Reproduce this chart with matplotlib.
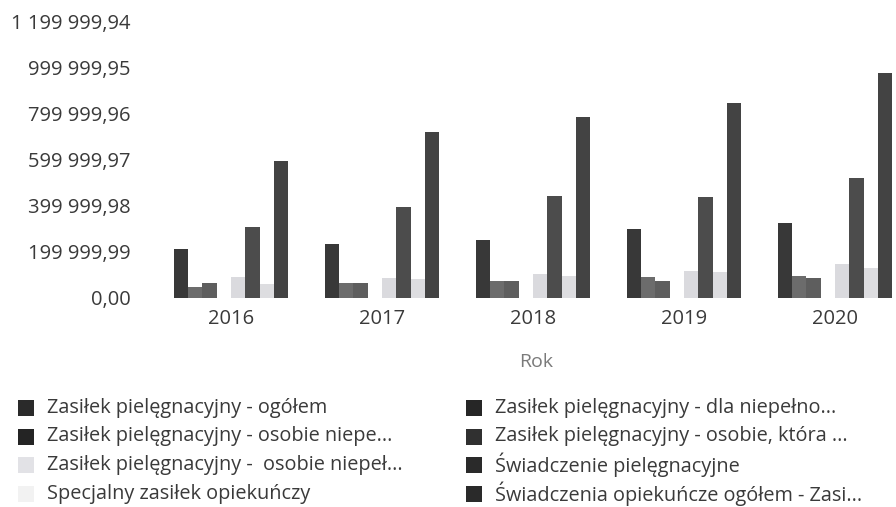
import matplotlib.pyplot as plt
import numpy as np
from matplotlib.patches import Rectangle
from matplotlib.ticker import FuncFormatter

plt.rcParams["font.family"] = ["Open Sans", "DejaVu Sans"]

years = ["2016", "2017", "2018", "2019", "2020"]

# świadczenia per rok (zł)
zp_ogolem = [212000, 234000, 251000, 297000, 324000]
zp_dla_niepelnosprawnego = [49000, 66000, 72000, 92000, 95000]
zp_osobie_niepe = [64000, 66000, 72000, 75000, 85000]
zp_osobie_ktora = [0, 0, 0, 0, 0]
zp_osobie_niepel = [90000, 88000, 103000, 116000, 147000]
swiadczenie_piel = [309000, 393000, 442000, 436000, 521000]
specjalny_zasilek = [59000, 82000, 95000, 111000, 129000]
swiadczenia_ogolem = [594000, 718000, 786000, 846000, 975000]

series_names = [
    "Zasiłek pielęgnacyjny - ogółem",
    "Zasiłek pielęgnacyjny - dla niepełno...",
    "Zasiłek pielęgnacyjny - osobie niepe...",
    "Zasiłek pielęgnacyjny - osobie, która ...",
    "Zasiłek pielęgnacyjny -  osobie niepeł...",
    "Świadczenie pielęgnacyjne",
    "Specjalny zasiłek opiekuńczy",
    "Świadczenia opiekuńcze ogółem - Zasi...",
]
series = [
    zp_ogolem,
    zp_dla_niepelnosprawnego,
    zp_osobie_niepe,
    zp_osobie_ktora,
    zp_osobie_niepel,
    swiadczenie_piel,
    specjalny_zasilek,
    swiadczenia_ogolem,
]
bar_colors = ["#383838", "#6c6c6c", "#5e5e5e", "#404040",
              "#dadade", "#4c4c4c", "#dddde0", "#434343"]
legend_colors = ["#2a2a2a", "#262626", "#242424", "#303030",
                 "#e2e2e6", "#2a2a2a", "#f2f2f2", "#2a2a2a"]

W, H = 896, 507
fig = plt.figure(figsize=(W / 100, H / 100), dpi=100)
ax = fig.add_axes([155.5 / W, 1 - 298 / H, (W - 155.5) / W, 277 / H])

x = np.arange(len(years))
n = len(series)
width = 0.76 / n
for i, (vals, col) in enumerate(zip(series, bar_colors)):
    offs = (i - (n - 1) / 2) * width
    ax.bar(x + offs, vals, width=width, color=col, linewidth=0)

step = 199999.99
ax.set_ylim(0, 6 * step)
ax.set_yticks([i * step for i in range(7)])
ax.yaxis.set_major_formatter(
    FuncFormatter(lambda v, p: f"{v:,.2f}".replace(",", " ").replace(".", ","))
)
ax.set_xlim(-0.5, (W - 231) / 151)
ax.set_xticks(x)
ax.set_xticklabels(years)

for s in ax.spines.values():
    s.set_visible(False)
ax.tick_params(axis="both", length=0, labelsize=14.5, colors="#3a3a3a")
ax.tick_params(axis="y", pad=18)
ax.tick_params(axis="x", pad=8)
ax.set_xlabel("Rok", fontsize=14, color="#7a7a7a")
ax.xaxis.set_label_coords(0.514, -0.2)

# legenda w dwóch kolumnach, wiersz po wierszu
for k, (name, col) in enumerate(zip(series_names, legend_colors)):
    row, c = divmod(k, 2)
    sx = [18, 466][c]
    cy = 408 + 28.5 * row
    fig.patches.append(Rectangle((sx / W, 1 - (cy + 8) / H), 16 / W, 16 / H,
                                 transform=fig.transFigure, facecolor=col,
                                 edgecolor="none"))
    fig.text((sx + 29) / W, 1 - cy / H, name, fontsize=14.3, color="#3a3a3a",
             va="center", ha="left")

fig.savefig("out.png", dpi=100)
